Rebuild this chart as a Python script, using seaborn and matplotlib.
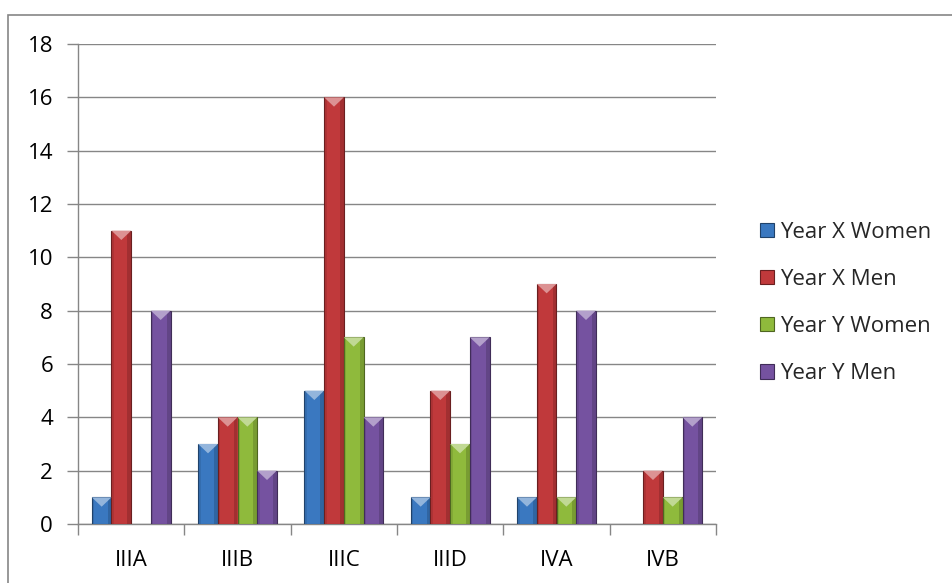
import matplotlib
matplotlib.use("Agg")
import matplotlib.pyplot as plt
import matplotlib.patches as mpatches
import matplotlib.colors as mcolors
import seaborn as sns
import pandas as pd

categories = ["IIIA", "IIIB", "IIIC", "IIID", "IVA", "IVB"]
series_names = ["Year X Women", "Year X Men", "Year Y Women", "Year Y Men"]
year_x_women = [1, 3, 5, 1, 1, 0]
year_x_men = [11, 4, 16, 5, 9, 2]
year_y_women = [0, 4, 7, 3, 1, 1]
year_y_men = [8, 2, 4, 7, 8, 4]
y_ticks = [0, 2, 4, 6, 8, 10, 12, 14, 16, 18]

colors = ["#3a78c0", "#c0393b", "#8fba3c", "#7552a0"]

df = pd.DataFrame({
    "stage": categories * 4,
    "series": sum([[s] * len(categories) for s in series_names], []),
    "count": year_x_women + year_x_men + year_y_women + year_y_men,
})

sns.set_theme(style="white")
plt.rcParams["font.family"] = ["Open Sans", "DejaVu Sans"]

fig = plt.figure(figsize=(9.52, 5.83), dpi=100)
ax = fig.add_axes([78 / 952, 1 - 524 / 583, (716 - 78) / 952, (524 - 44) / 583])

sns.barplot(data=df, x="stage", y="count", hue="series", order=categories,
            hue_order=series_names, palette=colors, width=0.74, gap=0,
            saturation=1, ax=ax, legend=False, zorder=3)

ax.set_ylim(0, 18)
ax.set_xlim(-0.5, len(categories) - 0.5)

# bevel look: dark outline, shaded side strips and a light chevron at the top
px_per_x = ax.transData.transform((1, 0))[0] - ax.transData.transform((0, 0))[0]
px_per_y = ax.transData.transform((0, 1))[1] - ax.transData.transform((0, 0))[1]
for container, col in zip(ax.containers, colors):
    rgb = mcolors.to_rgb(col)
    dark = tuple(c * 0.55 for c in rgb)
    light = tuple(c + (1 - c) * 0.45 for c in rgb)
    for bar in container:
        h = bar.get_height()
        if h <= 0:
            bar.set_visible(False)
            continue
        bar.set_edgecolor(dark)
        bar.set_linewidth(0.8)
        x0, w = bar.get_x(), bar.get_width()
        depth = min((w / 2) * px_per_x / px_per_y * 0.95, h)
        ax.add_patch(mpatches.Rectangle((x0 + w * 0.80, 0), w * 0.20, h,
                                        facecolor=dark, alpha=0.35,
                                        edgecolor="none", zorder=4))
        ax.add_patch(mpatches.Rectangle((x0, 0), w * 0.12, h,
                                        facecolor=dark, alpha=0.2,
                                        edgecolor="none", zorder=4))
        ax.add_patch(mpatches.Polygon([(x0, h), (x0 + w, h),
                                       (x0 + w / 2, h - depth)],
                                      closed=True, facecolor=light,
                                      edgecolor="none", zorder=5))

ax.set_yticks(y_ticks)
ax.set_xticks([i - 0.5 for i in range(len(categories) + 1)], minor=False)
ax.set_xticklabels([""] * (len(categories) + 1))
ax.set_xticks(range(len(categories)), minor=True)
ax.set_xticklabels(categories, minor=True)
ax.tick_params(axis="x", which="major", length=8, width=1, color="#868686",
               direction="out", bottom=True)
ax.tick_params(axis="x", which="minor", length=0, pad=19, labelsize=16,
               labelcolor="black")
ax.tick_params(axis="y", length=8, width=1, color="#868686", direction="out",
               left=True, pad=10, labelsize=16, labelcolor="black")
ax.set_xlabel("")
ax.set_ylabel("")

ax.yaxis.grid(True, color="#868686", linewidth=1)
ax.set_axisbelow(True)
for side in ["top", "right"]:
    ax.spines[side].set_visible(False)
for side in ["left", "bottom"]:
    ax.spines[side].set_color("#868686")
    ax.spines[side].set_linewidth(1)

handles = [mpatches.Patch(facecolor=c,
                          edgecolor=tuple(v * 0.55 for v in mcolors.to_rgb(c)),
                          linewidth=0.8, label=s)
           for c, s in zip(colors, series_names)]
fig.legend(handles=handles, loc="center left",
           bbox_to_anchor=(740 / 952, 1 - 303 / 583), frameon=False,
           fontsize=16, handlelength=0.62, handleheight=0.62,
           handletextpad=0.3, labelspacing=1.18)

# chart-area border
fig.patches.append(mpatches.Rectangle((8 / 952, -0.1), 1.2, 1 - 15 / 583 + 0.1,
                                      transform=fig.transFigure, fill=False,
                                      edgecolor="#868686", linewidth=1.2))

fig.savefig("out.png", dpi=100)
